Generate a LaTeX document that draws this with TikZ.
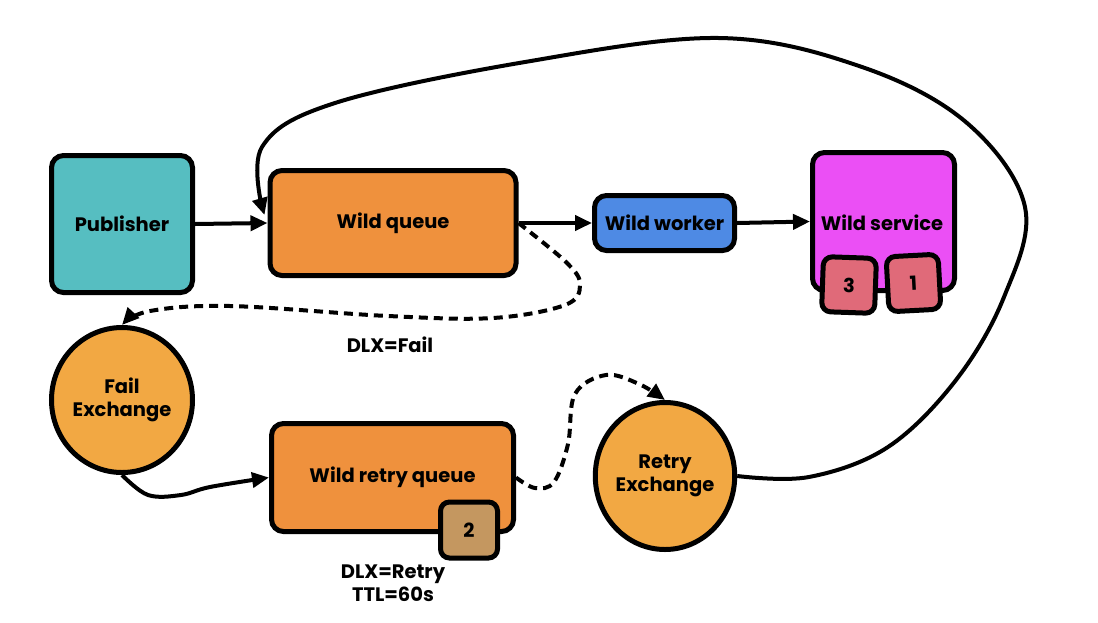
\documentclass[tikz,border=0pt]{standalone}
\usepackage{fontspec}
\setmainfont{Poppins}
\usetikzlibrary{arrows.meta,shapes.geometric,calc}
\definecolor{cteal}{HTML}{56BEC1}
\definecolor{corange}{HTML}{EF913D}
\definecolor{cblue}{HTML}{4E8AE4}
\definecolor{cmag}{HTML}{EB4FF5}
\definecolor{cpink}{HTML}{E06A79}
\definecolor{cexch}{HTML}{F2A843}
\definecolor{cbrown}{HTML}{C49760}
\tikzset{
  txt/.style={font=\fontsize{19.5}{23}\selectfont\bfseries},
  box/.style={txt,draw=black,line width=5pt,rounded corners=12pt,align=center,inner sep=0pt},
  exch/.style={txt,draw=black,line width=5pt,ellipse,align=center,inner sep=0pt},
  chip/.style={txt,draw=black,line width=5pt,rounded corners=9pt,inner sep=0pt},
  conn/.style={line width=4pt,-{Triangle[length=17pt,width=15pt]}},
  dconn/.style={conn,dash pattern=on 9pt off 6pt},
  lbl/.style={txt,align=center,inner sep=0pt}
}
\begin{document}
\begin{tikzpicture}[x=1pt,y=-1pt]
\useasboundingbox (0,0) rectangle (1098,622);
\node[box,fill=cteal,minimum width=141pt,minimum height=137pt] (pub) at (122,224) {Publisher};
\node[box,fill=corange,minimum width=246pt,minimum height=105pt] (wq) at (393,223) {Wild queue};
\node[box,fill=cblue,minimum width=140pt,minimum height=55pt] (ww) at (664.5,223) {Wild worker};
\node[box,fill=cmag,minimum width=142pt,minimum height=138pt] (ws) at (883.5,221.5) {};
\node[txt,inner sep=0pt] (wst) at (882,223) {Wild service};
\node[chip,fill=cpink,minimum width=53pt,minimum height=55pt,rotate=-2] (c3) at (849,285) {3};
\node[chip,fill=cpink,minimum width=52pt,minimum height=55pt,rotate=3] (c1) at (913.5,283) {1};
\node[exch,fill=cexch,minimum width=141pt,minimum height=145pt] (fe) at (122,400) {Fail\\Exchange};
\node[box,fill=corange,minimum width=242pt,minimum height=108pt] (rq) at (392.5,477.5) {Wild retry queue};
\node[chip,fill=cbrown,minimum width=57pt,minimum height=56pt] (c2) at (469,530) {2};
\node[exch,fill=cexch,minimum width=137pt,minimum height=147pt] (re) at (665,476) {Retry\\Exchange};
\node[lbl] (dlxf) at (390,345) {DLX=Fail};
\node[lbl] (dlxr) at (393,583) {DLX=Retry\\TTL=60s};
\coordinate (wqin) at ($(wq.west)+(-3,-8)$);
% connectors
\draw[conn] (pub.east) -- (wq.west);
\draw[conn] (wq.east) -- (ww.west);
\draw[conn] (ww.east) -- (ws.west);
\draw[dconn] plot[smooth,tension=0.6] coordinates {(wq.east) (567,263) (580,285) (565,305) (493,318) (388,316) (230,306) (150,311) (fe.north)};
\draw[conn] plot[smooth,tension=0.6] coordinates {(fe.south) (148,495) (181,495) (210,487) (rq.west)};
\draw[dconn] plot[smooth,tension=0.6] coordinates {(rq.east) (535,488) (554,482) (568,444) (575,394) (606,375) (639,384) (re.north)};
\draw[conn] plot[smooth,tension=0.6] coordinates {(re.east) (809,477) (888,447) (956,380) (1004,297) (1025,207) (967,123) (862,67) (719,38) (525,62) (335,103) (262,147) (wqin)};
\end{tikzpicture}
\end{document}
